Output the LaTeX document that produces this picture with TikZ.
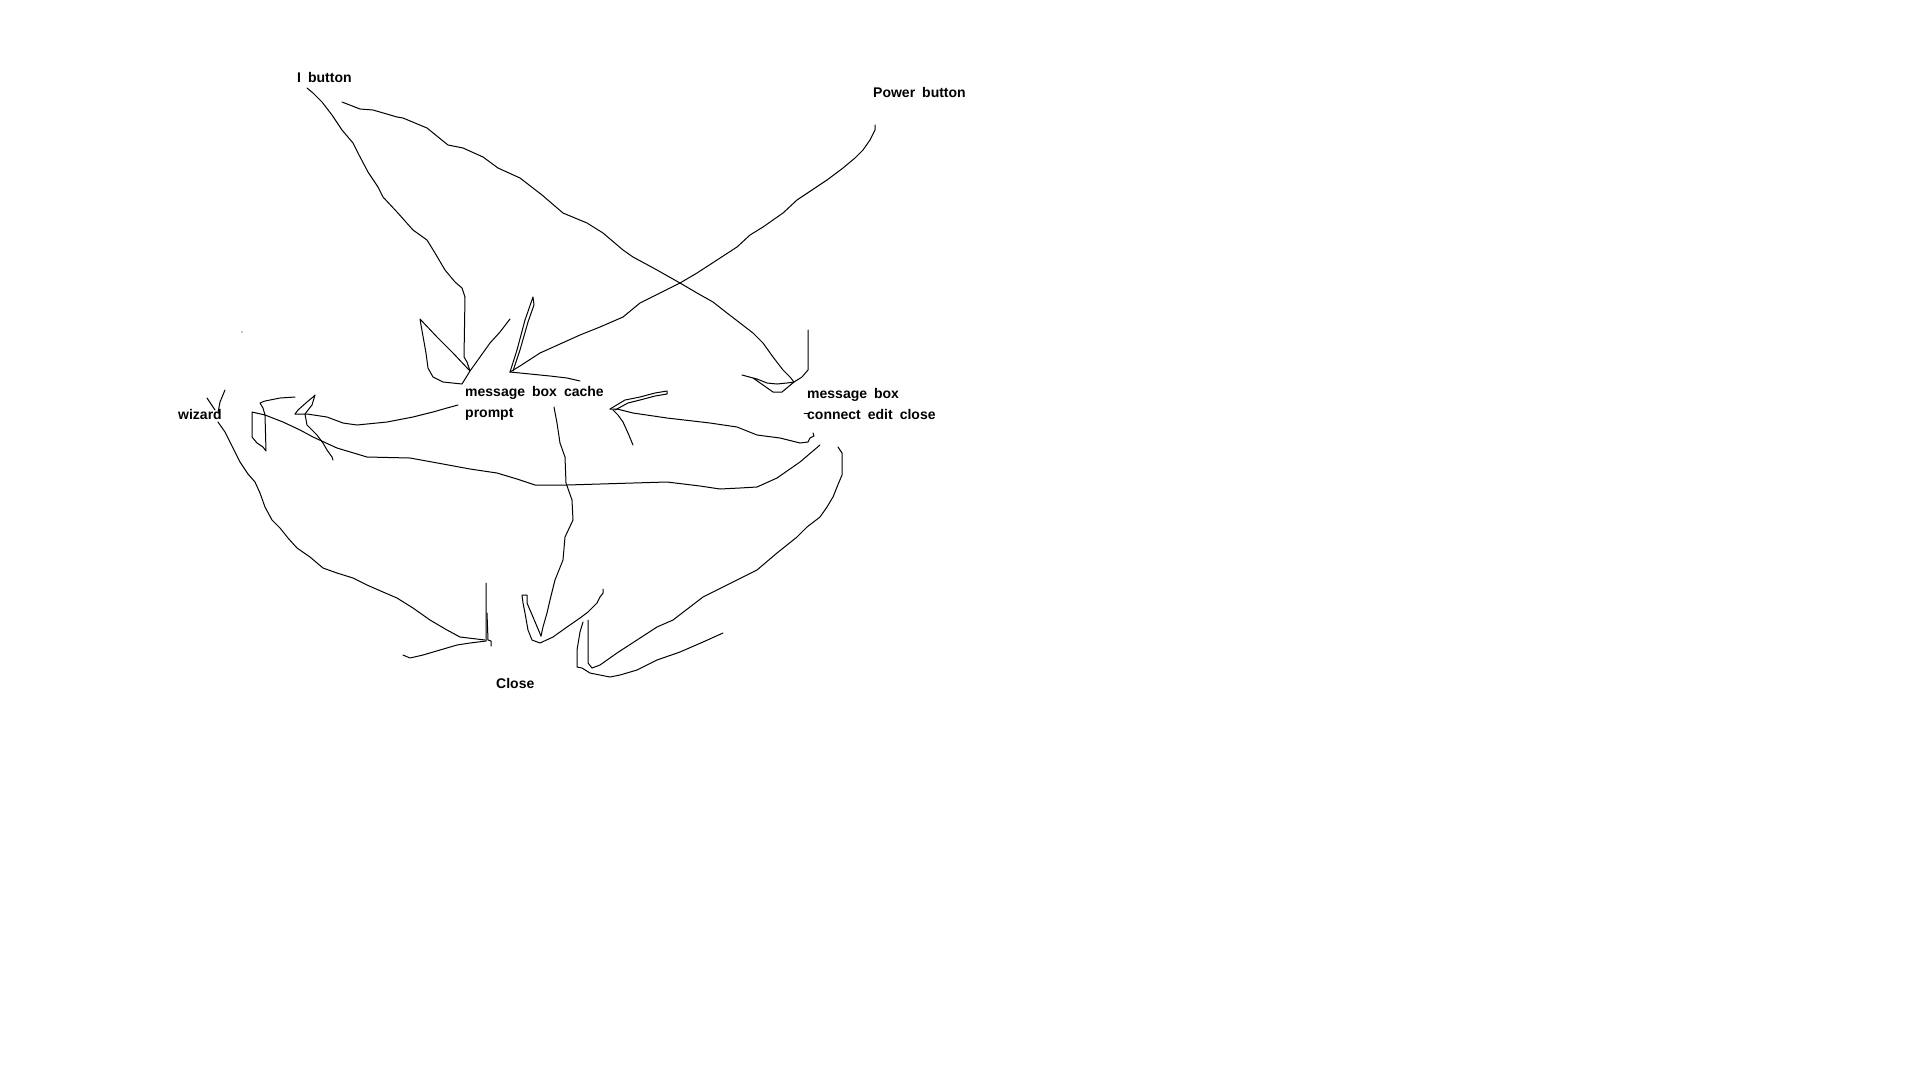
\documentclass[tikz,border=0pt]{standalone}
\usepackage{fontspec}
\setmainfont{Liberation Sans}[WordSpace=1.8]
\usetikzlibrary{positioning,calc}
\tikzset{pen/.style={line width=1pt, line join=round, line cap=round}}
\tikzset{lbl/.style={anchor=base west, inner sep=0pt, align=left, font={\fontsize{14}{21}\selectfont\bfseries}}}

\begin{document}
\begin{tikzpicture}[x=1pt, y=-1pt]
        \useasboundingbox (0,0) rectangle (1920,1080);
        \node[lbl] (ibtn) at (297,82) {I button};
        \node[lbl] (pwr) at (873,97) {Power button};
        % base of a two-line label is its last line
        \node[lbl] (cache) at (465,417) {message box cache\\prompt};
        \node[lbl] (conn) at (807,419) {message box\\connect edit close};
        \node[lbl] (wiz) at (178,419) {wizard};
        \node[lbl] (close) at (496,688) {Close};
        % ends of the strokes
        \coordinate (i-out) at (307,88);
        \coordinate (i-out2) at (342,102);
        \coordinate (p-out) at (875,125);
        \coordinate (c-out1) at (458,405);
        \coordinate (c-out2) at (554,407);
        \coordinate (m-out1) at (813,433);
        \coordinate (m-out2) at (820,445);
        \coordinate (m-out3) at (838,447);
        \coordinate (w-out) at (218,422);
        \coordinate (t1) at (470,371);
        \coordinate (t2) at (510,372);
        \coordinate (t3) at (794,382);
        \coordinate (t4) at (610,409);
        \coordinate (t5) at (265,415);
        \coordinate (t6) at (295,414);
        \coordinate (t7) at (485,640);
        \coordinate (t8) at (541,636);
        \coordinate (t9) at (592,668);
        % I button -> message box cache
        \draw[pen] (i-out) -- (313,93) -- (322,102) -- (332,115) -- (342,130) -- (353,143) -- (358,153) -- (368,172) -- (378,187) -- (383,197) -- (397,212) -- (413,230) -- (427,240) -- (435,253) -- (445,270) -- (455,282) -- (462,288) -- (465,297) -- (464,357) -- (467,362) -- (t1);
        \draw[pen] (t1) -- (453,353) -- (437,337) -- (420,319) -- (421,325) -- (426,353) -- (428,368) -- (433,377) -- (443,382) -- (462,384) -- (t1) -- (490,343) -- (500,332) -- (510,319);
        % Power button -> message box cache
        \draw[pen] (p-out) -- (875,130) -- (870,140) -- (863,150) -- (855,158) -- (843,168) -- (827,180) -- (812,190) -- (797,200) -- (783,213) -- (763,227) -- (750,235) -- (737,247) -- (717,260) -- (697,273) -- (680,283) -- (660,293) -- (640,303) -- (623,317) -- (600,327) -- (580,335) -- (560,344) -- (540,353) -- (520,366) -- (t2);
        \draw[pen] (t2) -- (517,350) -- (525,320) -- (533,297) -- (534,305) -- (528,322) -- (520,350) -- (513,371);
        \draw[pen] (t2) -- (520,373) -- (550,376) -- (567,378) -- (580,381);
        % I button -> message box connect
        \draw[pen] (i-out2) -- (360,109) -- (373,110) -- (397,117) -- (403,118) -- (427,128) -- (448,145) -- (463,148) -- (483,157) -- (498,168) -- (520,178) -- (542,195) -- (563,213) -- (587,223) -- (603,233) -- (623,250) -- (633,257) -- (657,270) -- (680,283) -- (697,293) -- (713,302) -- (727,313) -- (740,323) -- (753,333) -- (763,343) -- (773,357) -- (783,370) -- (790,377) -- (t3);
        \draw[pen] (808,330) -- (808,370) -- (802,377) -- (t3) -- (787,383) -- (777,384) -- (767,383) -- (757,379) -- (742,375) -- (753,378) -- (763,385) -- (773,392) -- (782,392) -- (788,387) -- (t3);
        \draw[pen] (804,413) -- (809,413);
        % message box connect -> message box cache
        \draw[pen] (m-out1) -- (814,436) -- (810,438) -- (808,442) -- (800,443) -- (780,438) -- (757,435) -- (737,427) -- (710,423) -- (667,418) -- (633,413) -- (617,409) -- (t4);
        \draw[pen] (t4) -- (625,400) -- (640,397) -- (655,393) -- (667,391) -- (667,394) -- (655,396) -- (640,400) -- (628,403) -- (615,410);
        \draw[pen] (613,410) -- (618,415) -- (623,422) -- (628,433) -- (633,445);
        % message box connect -> wizard
        \draw[pen] (m-out2) -- (800,462) -- (777,478) -- (757,487) -- (740,488) -- (720,489) -- (700,486) -- (667,482) -- (633,483) -- (600,484) -- (567,485) -- (535,485) -- (517,479) -- (497,473) -- (470,469) -- (443,464) -- (410,458) -- (367,457) -- (337,448) -- (313,437) -- (300,430) -- (283,422) -- (t5);
        \draw[pen] (t5) -- (263,408) -- (260,403) -- (265,401) -- (280,398) -- (295,397);
        \draw[pen] (t5) -- (252,412) -- (252,437) -- (257,443) -- (263,447) -- (266,451) -- (t5);
        % message box cache -> wizard
        \draw[pen] (c-out1) -- (447,408) -- (433,412) -- (413,417) -- (387,422) -- (357,425) -- (343,423) -- (327,417) -- (307,414) -- (t6);
        \draw[pen] (t6) -- (298,410) -- (307,402) -- (313,397) -- (315,395) -- (312,405) -- (308,410) -- (305,414);
        \draw[pen] (305,414) -- (307,425) -- (310,428) -- (317,435) -- (323,443) -- (327,450) -- (332,457) -- (333,460);
        \draw[pen] (207,398) -- (215,410);
        \draw[pen] (225,390) -- (220,402) -- (218,413);
        % wizard -> Close
        \draw[pen] (w-out) -- (225,432) -- (233,448) -- (240,462) -- (248,474) -- (255,482) -- (260,493) -- (265,507) -- (272,520) -- (280,528) -- (288,538) -- (297,548) -- (310,557) -- (323,568) -- (337,573) -- (353,578) -- (367,585) -- (383,592) -- (397,598) -- (413,608) -- (430,620) -- (447,630) -- (460,637) -- (t7);
        \draw[pen] (486,583) -- (486,641) -- (470,643) -- (457,645) -- (440,650) -- (423,655) -- (410,658) -- (403,655);
        \draw[pen] (487,613) -- (488,640) -- (491,641) -- (491,646);
        % message box cache -> Close
        \draw[pen] (c-out2) -- (557,423) -- (560,443) -- (565,457) -- (566,483) -- (572,500) -- (573,520) -- (565,537) -- (563,560) -- (555,580) -- (550,600) -- (547,613) -- (543,627) -- (t8);
        \draw[pen] (t8) -- (533,617) -- (527,603) -- (527,595) -- (522,595) -- (523,603) -- (525,613) -- (528,630) -- (532,640) -- (540,643) -- (553,637) -- (567,627) -- (580,618) -- (588,612) -- (597,603) -- (600,597) -- (603,593) -- (603,589);
        % message box connect -> Close
        \draw[pen] (m-out3) -- (842,453) -- (842,475) -- (837,487) -- (833,497) -- (827,507) -- (820,517) -- (807,527) -- (797,537) -- (777,553) -- (757,570) -- (737,580) -- (703,597) -- (673,620) -- (657,627) -- (637,640) -- (617,653) -- (600,665) -- (t9);
        \draw[pen] (588,620) -- (588,663) -- (t9);
        \draw[pen] (583,622) -- (580,632) -- (577,650) -- (577,667) -- (582,668) -- (590,673) -- (610,677) -- (620,675) -- (637,670) -- (657,660) -- (680,652) -- (703,642) -- (723,633);
        \fill (242,332) circle (0.7);
\end{tikzpicture}
\end{document}
